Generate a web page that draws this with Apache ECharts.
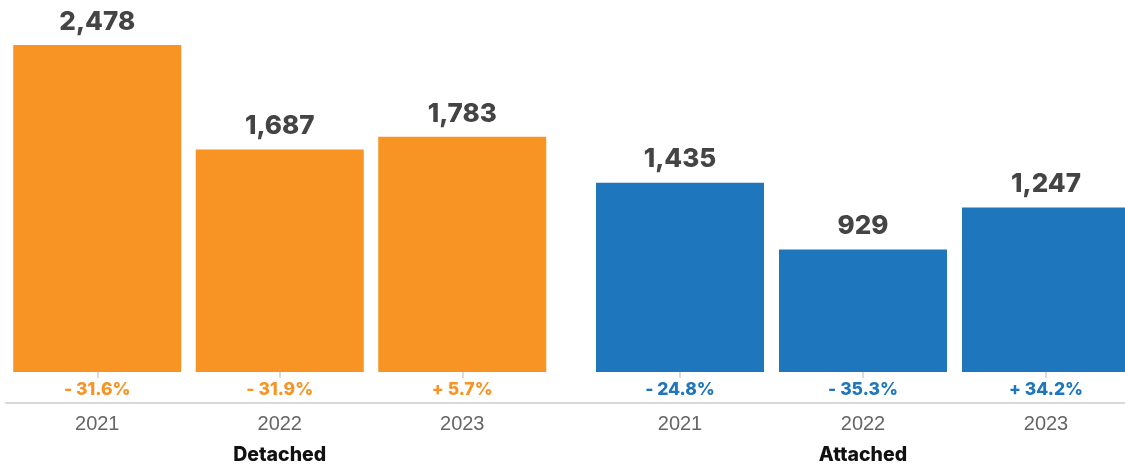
<!DOCTYPE html>
<html>
<head>
<meta charset="utf-8">
<script src="https://cdn.jsdelivr.net/npm/echarts@6/dist/echarts.min.js"></script>
<style>
  html, body { margin: 0; padding: 0; background: #fff; }
  #chart { width: 1125px; height: 467px; }
</style>
</head>
<body>
<div id="chart"></div>
<script>
// Sales by year for each dwelling type
const years = ['2021', '2022', '2023'];
const groupNames = ['Detached', 'Attached'];
const detached = [2478, 1687, 1783];
const attached = [1435, 929, 1247];
// Year-over-year change, percent
const detachedChange = [-31.6, -31.9, 5.7];
const attachedChange = [-24.8, -35.3, 34.2];

const ORANGE = '#F79423';
const BLUE = '#1E76BC';
const FONT = '"Liberation Sans", Arial, Helvetica, sans-serif';
const BOLD_FONT = 'Inter, "Liberation Sans", Arial, sans-serif';

const fmtChange = v => (v < 0 ? '- ' : '+ ') + Math.abs(v).toFixed(1) + '%';
const fmtValue = v => v.toLocaleString('en-US');
const yMax = Math.max(...detached, ...attached);

function groupAxis(gridIndex, name, changes, color) {
  return {
    type: 'category',
    gridIndex: gridIndex,
    data: years,
    position: 'bottom',
    offset: 31,
    axisLine: { show: false },
    axisTick: { show: true, alignWithLabel: true, length: 6, lineStyle: { color: '#dcdcdc', width: 2 } },
    axisLabel: {
      interval: 0,
      margin: -25,
      formatter: (val, idx) => '{pct|' + fmtChange(changes[idx]) + '}\n{yr|' + val + '}',
      rich: {
        pct: { fontFamily: BOLD_FONT, fontSize: 17.5, fontWeight: 800, color: color, lineHeight: 24 },
        yr: { fontFamily: FONT, fontSize: 20, color: '#666', lineHeight: 44 }
      }
    },
    name: name,
    nameLocation: 'middle',
    nameGap: 52,
    nameMoveOverlap: false,
    nameTextStyle: { fontFamily: BOLD_FONT, fontSize: 19.5, fontWeight: 800, color: '#111', verticalAlign: 'middle' }
  };
}

function groupSeries(idx, values, color) {
  return {
    type: 'bar',
    xAxisIndex: idx,
    yAxisIndex: idx,
    data: values,
    barWidth: 168,
    itemStyle: { color: color },
    label: {
      show: true,
      position: 'top',
      distance: 10,
      formatter: p => fmtValue(p.value),
      fontFamily: BOLD_FONT,
      fontSize: 26,
      fontWeight: 800,
      color: '#444'
    },
    animation: false
  };
}

const chart = echarts.init(document.getElementById('chart'), null, { renderer: 'canvas' });
chart.setOption({
  animation: false,
  grid: [
    { left: 6, width: 547.5, top: 45, bottom: 95, outerBoundsMode: 'none' },
    { left: 588.5, width: 549, top: 45, bottom: 95, outerBoundsMode: 'none' },
    // shared baseline running under both groups
    { left: 6, right: 0, top: 0, bottom: 64, outerBoundsMode: 'none' }
  ],
  xAxis: [
    groupAxis(0, groupNames[0], detachedChange, ORANGE),
    groupAxis(1, groupNames[1], attachedChange, BLUE),
    {
      type: 'category', gridIndex: 2, data: [''],
      axisLine: { show: true, lineStyle: { color: '#d9d9d9', width: 2 } },
      axisTick: { show: false }, axisLabel: { show: false }
    }
  ],
  yAxis: [
    { type: 'value', gridIndex: 0, min: 0, max: yMax, show: false },
    { type: 'value', gridIndex: 1, min: 0, max: yMax, show: false },
    { type: 'value', gridIndex: 2, show: false }
  ],
  series: [
    groupSeries(0, detached, ORANGE),
    groupSeries(1, attached, BLUE)
  ]
});
</script>
</body>
</html>
